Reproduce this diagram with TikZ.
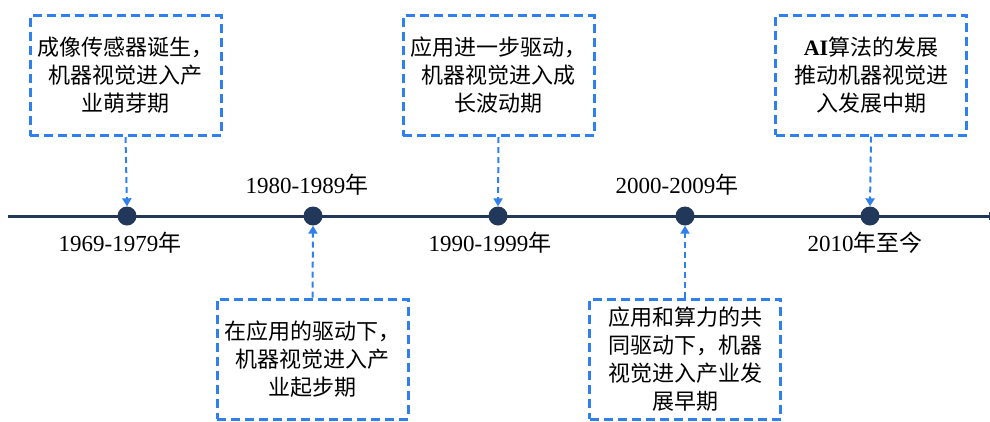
\documentclass[tikz,border=0pt]{standalone}
\usepackage{fontspec}
\setmainfont{Liberation Serif}
\newfontfamily\cjk{Noto Sans CJK SC}
\usetikzlibrary{arrows.meta,positioning}
\definecolor{axisnavy}{RGB}{33,56,90}
\definecolor{boxblue}{RGB}{47,128,237}
\tikzset{
  eventbox/.style={draw=boxblue, line width=3pt, dash pattern=on 9pt off 5pt,
    rectangle, minimum width=191pt, minimum height=120pt, inner sep=0pt,
    align=center, font=\cjk\fontsize{22}{28}\selectfont},
  yeardot/.style={circle, fill=axisnavy, minimum size=19pt, inner sep=0pt},
  yearlabel/.style={inner sep=0pt, font=\fontsize{23}{28}\selectfont},
  axisline/.style={draw=axisnavy, line width=3pt, -{Latex[length=10pt,width=9pt]}},
  link/.style={draw=boxblue, line width=2pt, dash pattern=on 6pt off 4pt,
    -{Triangle[length=8pt,width=9pt]}}
}
\begin{document}
\begin{tikzpicture}[x=1pt,y=-1pt]
            \useasboundingbox (0,0) rectangle (990,421);

            % Drawing the time axis
            \coordinate (axisL) at (8,216);
            \coordinate (axisR) at (999,216);
            \draw [axisline] (axisL) -- (axisR);

            % Marking the five periods by dots
            \node [yeardot] (d1) at (127,216) {};
            \node [yeardot] (d2) at (313,216) {};
            \node [yeardot] (d3) at (498,216) {};
            \node [yeardot] (d4) at (685,216) {};
            \node [yeardot] (d5) at (870,216) {};

            % Writing the years
            \node [yearlabel] (l1) at (120,243) {1969-1979{\cjk 年}};
            \node [yearlabel] (l2) at (307,185) {1980-1989{\cjk 年}};
            \node [yearlabel] (l3) at (490,243) {1990-1999{\cjk 年}};
            \node [yearlabel] (l4) at (677,185) {2000-2009{\cjk 年}};
            \node [yearlabel] (l5) at (865,243) {2010{\cjk 年至今}};

            % Drawing the boxes above the axis
            \node [eventbox] (b1) at (125.5,75.5) {成像传感器诞生，\\机器视觉进入产\\业萌芽期};
            \node [eventbox] (b3) at (498.5,75.5) {应用进一步驱动，\\机器视觉进入成\\长波动期};
            \node [eventbox] (b5) at (871,75) {{\rmfamily\bfseries AI}算法的发展\\推动机器视觉进\\入发展中期};

            % Drawing the boxes below the axis
            \node [eventbox] (b2) at (312.5,359) {在应用的驱动下，\\机器视觉进入产\\业起步期};
            \node [eventbox] (b4) at (685,359) {应用和算力的共\\同驱动下，机器\\视觉进入产业发\\展早期};

            % Drawing the links from boxes to dots
            \draw [link] (b1.south) -- (d1.north);
            \draw [link] (b3.south) -- (d3.north);
            \draw [link] (b5.south) -- (d5.north);
            \draw [link] (b2.north) -- (d2.south);
            \draw [link] (b4.north) -- (d4.south);
        \end{tikzpicture}
\end{document}
